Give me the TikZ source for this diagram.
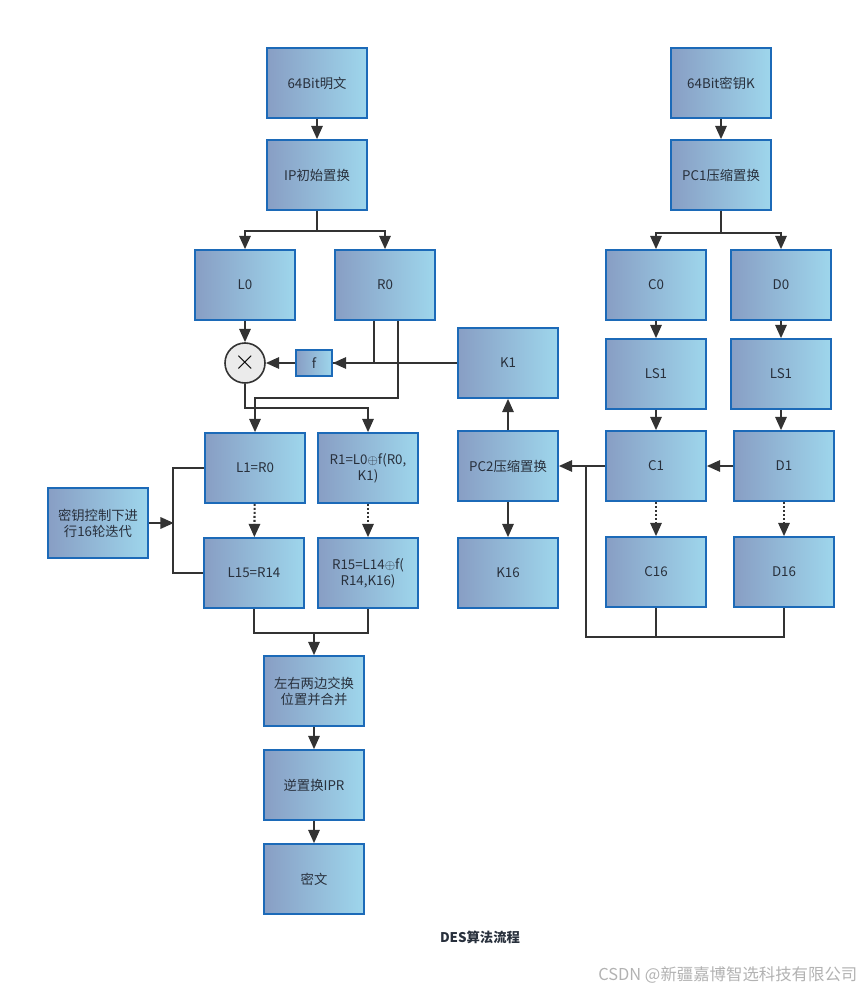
\documentclass[tikz,border=0pt]{standalone}
\usepackage{fontspec}
\setmainfont{Noto Sans CJK SC}
\usetikzlibrary{positioning, arrows.meta, calc}

\begin{document}
\begin{tikzpicture}[
    x=0.75pt, y=-0.75pt,
    box/.style={rectangle, draw=cborder, line width=1.2pt, left color=cleft, right color=cright,
                minimum width=75pt, minimum height=52.5pt, align=center, inner sep=1pt,
                text=ctext, font=\fontsize{10}{12}\selectfont},
    small_box/.style={box, minimum width=27pt, minimum height=19.5pt},
    xor_node/.style={circle, draw=cline, line width=1.2pt, fill=black!8, minimum size=30pt, inner sep=0pt},
    plain_line/.style={draw=cline, line width=1.6pt},
    arrow_line/.style={plain_line, -{Triangle[length=10pt, width=8.5pt]}},
    dot_arrow/.style={arrow_line, dash pattern=on 1.5pt off 1.5pt}
]

  % --- Color Definitions ---
  \definecolor{cleft}{RGB}{136, 158, 196}   % greyish blue
  \definecolor{cright}{RGB}{158, 214, 236}  % light cyan
  \definecolor{cborder}{RGB}{28, 106, 184}  % box border
  \definecolor{cline}{RGB}{51, 51, 51}      % connectors
  \definecolor{ctext}{RGB}{40, 48, 60}
  \definecolor{cmark}{RGB}{178, 178, 178}   % watermark

  \useasboundingbox (0,0) rectangle (866,991);

  % --- Data path ---
  \node[box] (plain)  at (317,83)  {64Bit明文};
  \node[box] (ip)     at (317,175) {IP初始置换};
  \node[box] (l0)     at (245,285) {L0};
  \node[box] (r0)     at (385,285) {R0};
  \node[xor_node] (xor) at (245,363) {\huge$\times$};
  \node[small_box] (f) at (314,363) {f};
  \node[box] (l1)     at (255,468) {L1=R0};
  \node[box] (r1)     at (368,468) {R1=L0$\oplus$f(R0,\\K1)};
  \node[box] (l15)    at (254,573) {L15=R14};
  \node[box] (r15)    at (368,573) {R15=L14$\oplus$f(\\R14,K16)};
  \node[box] (iter)   at (98,523)  {密钥控制下进\\行16轮迭代};
  \node[box] (swap)   at (314,691) {左右两边交换\\位置并合并};
  \node[box] (ipr)    at (314,785) {逆置换IPR};
  \node[box] (cipher) at (314,879) {密文};

  % --- Key schedule ---
  \node[box] (key)  at (721,83)  {64Bit密钥K};
  \node[box] (pc1)  at (721,175) {PC1压缩置换};
  \node[box] (c0)   at (656,285) {C0};
  \node[box] (d0)   at (781,285) {D0};
  \node[box] (lsc)  at (656,374) {LS1};
  \node[box] (lsd)  at (781,374) {LS1};
  \node[box] (c1)   at (656,466) {C1};
  \node[box] (d1)   at (784,466) {D1};
  \node[box] (c16)  at (656,572) {C16};
  \node[box] (d16)  at (784,572) {D16};
  \node[box] (k1)   at (508,363) {K1};
  \node[box] (pc2)  at (508,466) {PC2压缩置换};
  \node[box] (k16)  at (508,573) {K16};

  % --- Connectors, data path ---
  \draw[arrow_line] (plain) -- (ip);
  \draw[arrow_line] (ip.south) -- ++(0,20) -| (l0.north);
  \draw[arrow_line] (ip.south) -- ++(0,20) -| (r0.north);
  \draw[arrow_line] (l0) -- (xor);
  \draw[arrow_line] (k1.west) -- (f.east);
  \draw[plain_line] ($(r0.south)+(-11,0)$) |- (f.east);
  \draw[arrow_line] (f) -- (xor);
  \draw[arrow_line] ($(r0.south)+(13,0)$) -- ++(0,77) -| (l1.north);
  \draw[arrow_line] (xor.south) -- ++(0,24) -| (r1.north);
  \draw[dot_arrow] (l1) -- (l15);
  \draw[dot_arrow] (r1) -- (r15);
  \draw[arrow_line] (iter.east) -- ++(25,0);
  \draw[plain_line] (l1.west) -- ++(-31,0) |- (l15.west);
  \coordinate (merge) at ($(l15.south)+(0,24)$);
  \draw[plain_line] (l15.south) -- (merge) -| (r15.south);
  \draw[arrow_line] (merge -| swap.north) -- (swap.north);
  \draw[arrow_line] (swap) -- (ipr);
  \draw[arrow_line] (ipr) -- (cipher);

  % --- Connectors, key schedule ---
  \draw[arrow_line] (key) -- (pc1);
  \draw[arrow_line] (pc1.south) -- ++(0,22) -| (c0.north);
  \draw[arrow_line] (pc1.south) -- ++(0,22) -| (d0.north);
  \draw[arrow_line] (c0) -- (lsc);
  \draw[arrow_line] (d0) -- (lsd);
  \draw[arrow_line] (lsc) -- (c1);
  \draw[arrow_line] (lsd.south) -- (lsd.south |- d1.north);
  \draw[arrow_line] (d1) -- (c1);
  \draw[arrow_line] (c1) -- (pc2);
  \draw[arrow_line] (pc2) -- (k1);
  \draw[arrow_line] (pc2) -- (k16);
  \draw[dot_arrow] (c1) -- (c16);
  \draw[dot_arrow] (d1) -- (d16);
  \coordinate (join) at ($(c16.south)+(0,29)$);
  \draw[plain_line] (c16.south) -- (join) -| (d16.south);
  \draw[plain_line] (join) -| ($(c1.west)+(-19,0)$);

  % --- Caption ---
  \node[font=\fontsize{10}{12}\selectfont\bfseries, text=ctext] (title) at (480,937) {DES算法流程};
  \node[font=\fontsize{12.3}{14}\selectfont, text=cmark, anchor=east] (mark) at (862,975) {CSDN @新疆嘉博智选科技有限公司};

\end{tikzpicture}
\end{document}
